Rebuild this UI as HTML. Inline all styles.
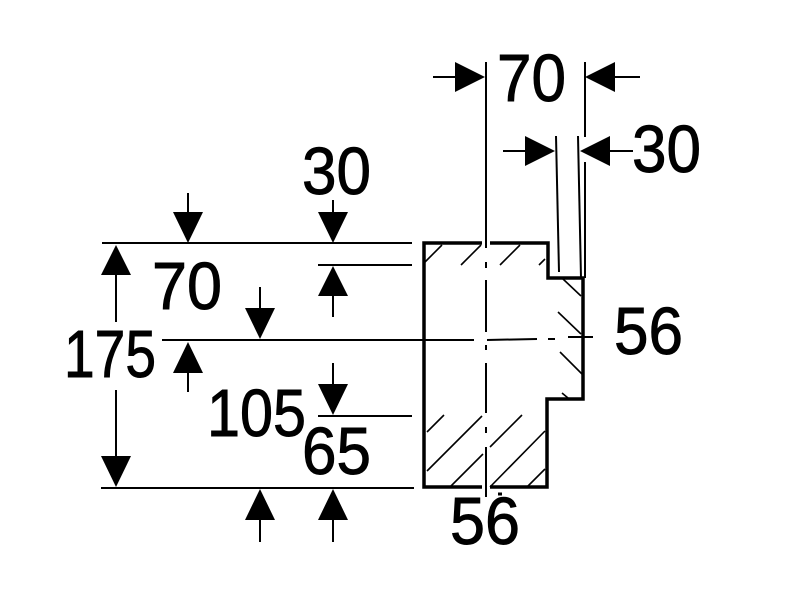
<!DOCTYPE html>
<html><head><meta charset="utf-8"><style>
html,body{margin:0;padding:0;background:#fff;}
svg{display:block;}
text{font-family:"Liberation Sans",sans-serif;font-size:67px;fill:#000;stroke:#000;stroke-width:0.9px;}
</style></head><body>
<svg width="800" height="600" viewBox="0 0 800 600" xmlns="http://www.w3.org/2000/svg">
<rect width="800" height="600" fill="#fff"/>
<g stroke="#000" stroke-width="2" fill="none">
  <line x1="102" y1="243" x2="412" y2="243"/>
  <line x1="318" y1="265" x2="412" y2="265"/>
  <line x1="162" y1="340" x2="474" y2="340"/>
  <line x1="318" y1="416" x2="412" y2="416"/>
  <line x1="101" y1="488" x2="414" y2="488"/>
  <line x1="433" y1="77" x2="456" y2="77"/>
  <line x1="614" y1="77" x2="640" y2="77"/>
  <line x1="503" y1="151" x2="526" y2="151"/>
  <line x1="609" y1="151" x2="633" y2="151"/>
  <line x1="188" y1="193" x2="188" y2="213"/>
  <line x1="333" y1="200" x2="333" y2="213"/>
  <line x1="333" y1="295" x2="333" y2="317"/>
  <line x1="116" y1="274" x2="116" y2="322"/>
  <line x1="260" y1="287" x2="260" y2="309"/>
  <line x1="188" y1="372" x2="188" y2="392"/>
  <line x1="116" y1="390" x2="116" y2="457"/>
  <line x1="333" y1="363" x2="333" y2="385"/>
  <line x1="260" y1="519" x2="260" y2="542"/>
  <line x1="333" y1="519" x2="333" y2="542"/>
  <line x1="486" y1="62" x2="486" y2="248"/>
  <line x1="585" y1="62" x2="585" y2="137"/>
  <line x1="585" y1="162" x2="585" y2="278"/>
  <line x1="556" y1="136" x2="559" y2="272"/>
  <line x1="578" y1="136" x2="581" y2="278"/>
  <line x1="486" y1="262" x2="486" y2="268"/>
  <line x1="486" y1="280" x2="486" y2="332"/>
  <line x1="486" y1="345" x2="486" y2="350"/>
  <line x1="486" y1="363" x2="486" y2="413"/>
  <line x1="486" y1="427" x2="486" y2="433"/>
  <line x1="486" y1="447" x2="486" y2="497"/>
  <line x1="487" y1="340" x2="537" y2="339"/>
  <line x1="548" y1="339" x2="555" y2="339"/>
  <line x1="568" y1="337" x2="593" y2="337"/>
  <line x1="498" y1="494" x2="502" y2="494" stroke-width="3"/>
</g>
<g fill="#000" stroke="none">
  <polygon points="485,77 455,62 455,92"/>
  <polygon points="585,77 615,62 615,92"/>
  <polygon points="555,151 525,136 525,166"/>
  <polygon points="580,151 610,136 610,166"/>
  <polygon points="188,243 173,212 203,212"/>
  <polygon points="333,243 318,212 348,212"/>
  <polygon points="333,266 318,296 348,296"/>
  <polygon points="116,245 101,275 131,275"/>
  <polygon points="260,339 245,308 275,308"/>
  <polygon points="188,342 173,373 203,373"/>
  <polygon points="116,487 101,456 131,456"/>
  <polygon points="333,415 318,384 348,384"/>
  <polygon points="260,489 245,520 275,520"/>
  <polygon points="333,489 318,520 348,520"/>
</g>
<g stroke="#000" stroke-width="1.6">
  <line x1="425" y1="262" x2="442" y2="245"/>
  <line x1="461" y1="265" x2="481" y2="245"/>
  <line x1="500" y1="265" x2="520" y2="245"/>
  <line x1="539" y1="265" x2="545" y2="259"/>
  <line x1="563" y1="279" x2="581" y2="296"/>
  <line x1="558" y1="312" x2="581" y2="334"/>
  <line x1="560" y1="352" x2="582" y2="374"/>
  <line x1="562" y1="393" x2="568" y2="398"/>
  <line x1="427" y1="432" x2="444" y2="415"/>
  <line x1="427" y1="471" x2="482" y2="416"/>
  <line x1="450" y1="487" x2="483" y2="454"/>
  <line x1="490" y1="447" x2="522" y2="415"/>
  <line x1="490" y1="487" x2="545" y2="431"/>
  <line x1="527" y1="487" x2="545" y2="469"/>
</g>
<g stroke="#000" stroke-width="3.5" fill="none" stroke-linejoin="miter">
  <polyline points="482,243 424,243 424,487 482,487"/>
  <polyline points="490,243 548,243 548,278 583,278 583,399 547,399 547,487 490,487"/>
</g>
<text x="497" y="101" textLength="69" lengthAdjust="spacingAndGlyphs">70</text>
<text x="632" y="172" textLength="69" lengthAdjust="spacingAndGlyphs">30</text>
<text x="302" y="194" textLength="69" lengthAdjust="spacingAndGlyphs">30</text>
<text x="152" y="309" textLength="70" lengthAdjust="spacingAndGlyphs">70</text>
<text x="64" y="377" textLength="92" lengthAdjust="spacingAndGlyphs">175</text>
<text x="207" y="436" textLength="99" lengthAdjust="spacingAndGlyphs">105</text>
<text x="302" y="474" textLength="69" lengthAdjust="spacingAndGlyphs">65</text>
<text x="614" y="354" textLength="69" lengthAdjust="spacingAndGlyphs">56</text>
<text x="450" y="544" textLength="70" lengthAdjust="spacingAndGlyphs">56</text>
</svg>
</body></html>
